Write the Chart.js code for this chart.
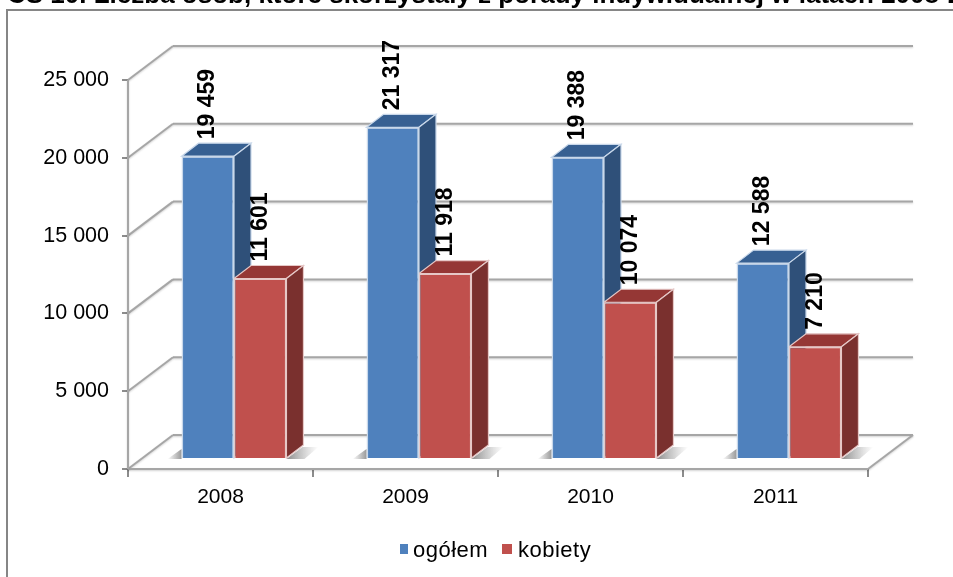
<!DOCTYPE html>
<html>
<head>
<meta charset="utf-8">
<script src="https://cdn.jsdelivr.net/npm/chart.js@4"></script>
<style>
  html, body { margin: 0; padding: 0; background: #fff; overflow: hidden; }
  #wrap { position: relative; width: 953px; height: 577px; overflow: hidden; filter: blur(0.45px); }
  #title { position: absolute; left: 7px; top: -21px; white-space: nowrap;
    font: bold 26px "Liberation Sans", sans-serif; color: #000; }
  #frame { position: absolute; left: 6px; top: 9px; width: 980px; height: 600px; border: 2px solid #868686; }
  canvas { position: absolute; left: 0; top: 0; }
</style>
</head>
<body>
<div id="wrap">
  <div id="frame"></div>
  <div id="title">CS 10. Liczba osób, które skorzystały z porady indywidualnej w latach 2008-2011</div>
  <canvas id="chart" width="953" height="577"></canvas>
</div>
<script>
const years = ["2008", "2009", "2010", "2011"];
const total = [19459, 21317, 19388, 12588];
const women = [11601, 11918, 10074, 7210];
const seriesNames = ["ogółem", "kobiety"];
const seriesColors = ["#4f81bd", "#c0504d"];
const yTicks = [0, 5000, 10000, 15000, 20000, 25000];

// depth of the fake 3d box
const wallX = 45, wallY = -34;
const barX = 13.5, barY = -10;
const sideX = 17, sideY = -13;
const gridColor = "#a6a6a6";
const font = "Liberation Sans";

function fmt(v) {
  return String(v).replace(/\B(?=(\d{3})+$)/g, " ");
}

function line(ctx, x1, y1, x2, y2) {
  ctx.beginPath();
  ctx.moveTo(x1, y1);
  ctx.lineTo(x2, y2);
  ctx.stroke();
}

function poly(ctx, pts, fill, stroke) {
  ctx.beginPath();
  pts.forEach((p, i) => (i ? ctx.lineTo(p[0], p[1]) : ctx.moveTo(p[0], p[1])));
  ctx.closePath();
  ctx.fillStyle = fill;
  ctx.fill();
  ctx.strokeStyle = stroke;
  ctx.lineWidth = 1.2;
  ctx.stroke();
}

function drawBoxSides(ctx, meta, blue) {
  const edge = blue ? "#c9d8ea" : "#e6c8c7";
  meta.data.forEach((b) => {
    const l = b.x - b.width / 2;
    const r = b.x + b.width / 2;
    poly(ctx, [[l, b.y], [l + sideX, b.y + sideY], [r + sideX, b.y + sideY], [r, b.y]],
      blue ? "#376092" : "#953735", edge);
    poly(ctx, [[r, b.y], [r + sideX, b.y + sideY], [r + sideX, b.base + sideY], [r, b.base]],
      blue ? "#2f5079" : "#7a302e", edge);
  });
}

function drawShadows(chart) {
  const { ctx } = chart;
  const p0 = chart.scales.y.getPixelForValue(0) + barY;
  chart.getDatasetMeta(0).data.forEach((b) => {
    const left = b.x - b.width / 2 + barX;
    const g = ctx.createLinearGradient(left - 14, 0, left, 0);
    g.addColorStop(0, "rgba(120,120,120,0)");
    g.addColorStop(1, "rgba(120,120,120,0.75)");
    ctx.fillStyle = g;
    ctx.beginPath();
    ctx.moveTo(left - 14, p0);
    ctx.lineTo(left, p0);
    ctx.lineTo(left, p0 - 10);
    ctx.fill();
  });
  chart.getDatasetMeta(1).data.forEach((b) => {
    const right = b.x + b.width / 2 + barX;
    const g = ctx.createLinearGradient(right, 0, right + 32, 0);
    g.addColorStop(0, "rgba(110,110,110,0.8)");
    g.addColorStop(1, "rgba(150,150,150,0)");
    ctx.fillStyle = g;
    ctx.beginPath();
    ctx.moveTo(right, p0);
    ctx.lineTo(right + 18, p0);
    ctx.lineTo(right + 32, p0 - 12);
    ctx.lineTo(right + 16, p0 - 12);
    ctx.fill();
  });
}

const walls = {
  id: "walls",
  beforeDatasetsDraw(chart) {
    const { ctx, chartArea: a, scales: { y } } = chart;
    ctx.save();
    ctx.lineWidth = 2;
    ctx.strokeStyle = gridColor;
    ctx.shadowColor = "rgba(0,0,0,0.18)";
    ctx.shadowBlur = 2;
    ctx.shadowOffsetY = 1;
    yTicks.forEach((t) => {
      const py = y.getPixelForValue(t);
      line(ctx, a.left + wallX, py + wallY, a.right + wallX, py + wallY);
      line(ctx, a.left, py, a.left + wallX, py + wallY);
    });
    const p0 = y.getPixelForValue(0);
    line(ctx, a.right, p0, a.right + wallX, p0 + wallY);
    line(ctx, a.left, p0, a.right, p0);
    line(ctx, a.left, y.getPixelForValue(25000), a.left, p0);
    ctx.restore();
    drawShadows(chart);
  },
  // red is painted first by chart.js, so the blue sides have to go in before it
  beforeDatasetDraw(chart, args) {
    const { ctx } = chart;
    ctx.save();
    ctx.translate(barX, barY);
    if (args.index === 1) drawBoxSides(ctx, chart.getDatasetMeta(0), true);
  },
  afterDatasetDraw(chart, args) {
    const { ctx } = chart;
    if (args.index === 1) drawBoxSides(ctx, chart.getDatasetMeta(1), false);
    ctx.restore();
  },
  afterDatasetsDraw(chart) {
    const { ctx } = chart;
    ctx.save();
    ctx.fillStyle = "#000";
    ctx.font = "bold 23px '" + font + "'";
    ctx.textAlign = "left";
    ctx.textBaseline = "middle";
    chart.data.datasets.forEach((ds, i) => {
      chart.getDatasetMeta(i).data.forEach((b, j) => {
        ctx.save();
        ctx.translate(b.x + barX, b.y + barY + sideY - 4);
        ctx.rotate(-Math.PI / 2);
        ctx.fillText(fmt(ds.data[j]), 0, 0);
        ctx.restore();
      });
    });
    ctx.restore();
  },
  afterDraw(chart) {
    // legend by hand: tighter box gap and wider letter spacing than the built-in one
    const { ctx } = chart;
    ctx.save();
    ctx.font = "22px '" + font + "'";
    ctx.letterSpacing = "0.5px";
    ctx.textBaseline = "middle";
    ctx.fillStyle = seriesColors[0];
    ctx.fillRect(400, 544, 8, 10);
    ctx.fillStyle = seriesColors[1];
    ctx.fillRect(502, 544, 10, 10);
    ctx.fillStyle = "#000";
    ctx.fillText(seriesNames[0], 413, 551);
    ctx.fillText(seriesNames[1], 518, 551);
    ctx.restore();
  }
};

new Chart(document.getElementById("chart"), {
  type: "bar",
  plugins: [walls],
  data: {
    labels: years,
    datasets: [
      { label: seriesNames[0], data: total, backgroundColor: seriesColors[0], borderColor: "#c9d8ea", borderWidth: 1.5 },
      { label: seriesNames[1], data: women, backgroundColor: seriesColors[1], borderColor: "#e6c8c7", borderWidth: 1.5 }
    ]
  },
  options: {
    responsive: false,
    animation: false,
    layout: { padding: { left: 0, right: 85, top: 80, bottom: 0 } },
    datasets: { bar: { categoryPercentage: 0.567, barPercentage: 1 } },
    plugins: {
      tooltip: { enabled: false },
      legend: { display: false }
    },
    scales: {
      x: {
        afterFit(s) { s.height = 108; },
        grid: { display: true, drawOnChartArea: false, drawTicks: true, tickLength: 8, color: "#8c8c8c", lineWidth: 2 },
        border: { display: false },
        ticks: { color: "#000", font: { family: font, size: 21 }, padding: 8 }
      },
      y: {
        min: 0,
        max: 25000,
        afterFit(s) { s.width = 128; },
        afterBuildTicks(s) { s.ticks = yTicks.map((v) => ({ value: v })); },
        grid: { display: true, drawOnChartArea: false, drawTicks: true, tickLength: 6, color: "#8c8c8c", lineWidth: 2 },
        border: { display: false },
        ticks: { color: "#000", font: { family: font, size: 21.5 }, padding: 13, callback: (v) => fmt(v) }
      }
    }
  }
});
</script>
</body>
</html>
